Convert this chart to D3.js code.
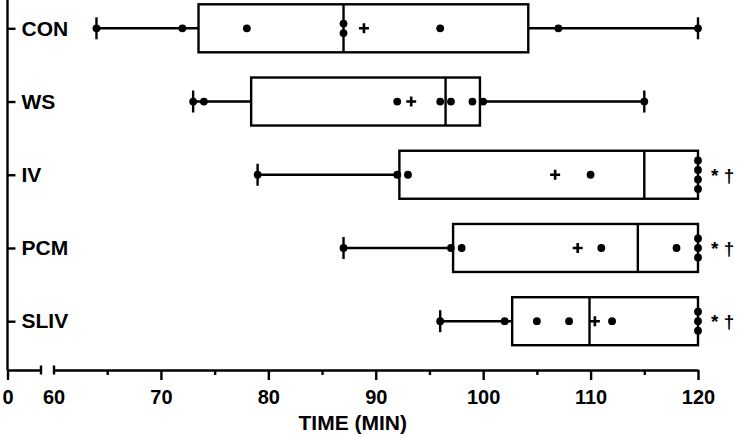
<!DOCTYPE html>
<html>
<head>
<meta charset="utf-8">
<script src="https://cdn.jsdelivr.net/npm/d3@7"></script>
<style>
  body { margin: 0; background: #fff; }
  svg { display: block; }
</style>
</head>
<body>
<svg id="chart" width="739" height="437"></svg>
<script>
const groups = ["CON", "WS", "IV", "PCM", "SLIV"];
const q1Values = [73.5, 78.4, 92.2, 97.2, 102.7];
const medianValues = [87, 96.5, 115, 114.4, 109.9];
const q3Values = [104.2, 99.7, 120, 120, 120];
const minValues = [64, 73, 79, 87, 96];
const maxValues = [120, 115, 120, 120, 120];
const meanValues = [88.9, 93.3, 106.7, 108.8, 110.4];
const pointValues = [
    [64, 72, 78, 87, 87, 96, 107, 120],
    [73, 74, 92, 96, 97, 99, 100, 115],
    [79, 92, 93, 110, 120, 120, 120, 120],
    [87, 97, 98, 111, 118, 120, 120, 120],
    [96, 102, 105, 108, 112, 120, 120, 120]
];
const sigLabels = ["", "", "* \u2020", "* \u2020", "* \u2020"];
const majorTicks = [60, 70, 80, 90, 100, 110, 120];
const minorTicks = [65, 75, 85, 95, 105, 115];
const lowTicks = [0];

function drawChart() {
    const svg = d3.select("#chart");
    const font = "'Liberation Sans', Arial, sans-serif";
    const axisY = 370, axisX = 7.5;
    const boxHalf = 24, capHalf = 11, r = 3.9, stackGap = 9.5, sw = 2.4;

    const x = d3.scaleLinear().domain([60, 120]).range([53.5, 698]);
    const xLow = d3.scaleLinear().domain([0, 3]).range([axisX, 41]);
    const y = d3.scalePoint().domain(groups).range([28.3, 321.2]);

    const data = groups.map((g, i) => ({
        name: g, q1: q1Values[i], med: medianValues[i], q3: q3Values[i],
        min: minValues[i], max: maxValues[i], mean: meanValues[i],
        pts: pointValues[i], sig: sigLabels[i]
    }));

    // y axis
    svg.append("line")
        .attr("x1", axisX).attr("x2", axisX)
        .attr("y1", 0).attr("y2", axisY)
        .attr("stroke", "black").attr("stroke-width", sw);

    const yAxis = svg.append("g")
        .attr("transform", `translate(${axisX},0)`)
        .call(d3.axisRight(y).tickSize(8).tickPadding(6));
    yAxis.select(".domain").remove();
    yAxis.selectAll("line").attr("stroke-width", sw);
    yAxis.selectAll("text")
        .attr("font-family", font).attr("font-size", 21).attr("font-weight", "bold")
        .attr("fill", "black");

    // x axis, low part (0)
    const lowAxis = svg.append("g")
        .attr("transform", `translate(0,${axisY})`)
        .call(d3.axisBottom(xLow).tickValues(lowTicks).tickFormat(d3.format("d"))
            .tickSize(10).tickPadding(10).tickSizeOuter(0));
    lowAxis.select(".domain").attr("stroke-width", sw);
    lowAxis.selectAll("line").attr("stroke-width", sw);
    lowAxis.append("line")
        .attr("x1", xLow.range()[1]).attr("x2", xLow.range()[1])
        .attr("y1", -4.5).attr("y2", 4.5)
        .attr("stroke", "black").attr("stroke-width", sw);

    // x axis, main part
    const mainAxis = svg.append("g")
        .attr("transform", `translate(0,${axisY})`)
        .call(d3.axisBottom(x).tickValues(majorTicks).tickSize(10).tickPadding(10).tickSizeOuter(0));
    mainAxis.select(".domain").attr("stroke-width", sw);
    mainAxis.selectAll("line").attr("stroke-width", sw);
    mainAxis.selectAll(".tick").filter(d => d === 60).select("line")
        .attr("y1", -4.5).attr("y2", 4.5);

    const minorAxis = svg.append("g")
        .attr("transform", `translate(0,${axisY})`)
        .call(d3.axisBottom(x).tickValues(minorTicks).tickSize(5).tickFormat(""));
    minorAxis.select(".domain").remove();
    minorAxis.selectAll("line").attr("stroke-width", sw);

    svg.selectAll(".tick text")
        .filter(function() { return this.textContent !== "" && !groups.includes(this.textContent); })
        .attr("font-family", font).attr("font-size", 20).attr("font-weight", "bold")
        .attr("fill", "black");

    svg.append("text")
        .attr("x", (xLow.range()[0] + x.range()[1]) / 2)
        .attr("y", 430)
        .attr("text-anchor", "middle")
        .attr("font-family", font).attr("font-size", 21).attr("font-weight", "bold")
        .text("TIME (MIN)");

    const row = svg.append("g").selectAll("g")
        .data(data)
        .join("g")
        .attr("transform", d => `translate(0,${y(d.name)})`);

    // whiskers
    row.filter(d => d.min < d.q1).append("line")
        .attr("x1", d => x(d.min)).attr("x2", d => x(d.q1))
        .attr("stroke", "black").attr("stroke-width", sw);
    row.filter(d => d.max > d.q3).append("line")
        .attr("x1", d => x(d.q3)).attr("x2", d => x(d.max))
        .attr("stroke", "black").attr("stroke-width", sw);
    row.filter(d => d.min < d.q1).append("line")
        .attr("x1", d => x(d.min)).attr("x2", d => x(d.min))
        .attr("y1", -capHalf).attr("y2", capHalf)
        .attr("stroke", "black").attr("stroke-width", sw);
    row.filter(d => d.max > d.q3).append("line")
        .attr("x1", d => x(d.max)).attr("x2", d => x(d.max))
        .attr("y1", -capHalf).attr("y2", capHalf)
        .attr("stroke", "black").attr("stroke-width", sw);

    // box
    row.append("rect")
        .attr("x", d => x(d.q1))
        .attr("y", -boxHalf)
        .attr("width", d => x(d.q3) - x(d.q1))
        .attr("height", boxHalf * 2)
        .attr("fill", "white")
        .attr("stroke", "black").attr("stroke-width", sw);
    row.append("line")
        .attr("x1", d => x(d.med)).attr("x2", d => x(d.med))
        .attr("y1", -boxHalf).attr("y2", boxHalf)
        .attr("stroke", "black").attr("stroke-width", sw);

    // mean plus
    row.append("path")
        .attr("d", d => `M${x(d.mean) - 5},0H${x(d.mean) + 5}M${x(d.mean)},-5V5`)
        .attr("stroke", "black").attr("stroke-width", 2.6);

    // points, duplicates stacked vertically
    row.each(function(d) {
        const counts = d3.rollup(d.pts, v => v.length, v => v);
        const seen = new Map();
        const placed = d.pts.map(v => {
            const k = seen.get(v) || 0;
            seen.set(v, k + 1);
            return {v: v, off: (k - (counts.get(v) - 1) / 2) * stackGap};
        });
        d3.select(this).selectAll("circle")
            .data(placed)
            .join("circle")
            .attr("cx", p => x(p.v))
            .attr("cy", p => p.off)
            .attr("r", r)
            .attr("fill", "black");
    });

    // significance marks
    row.append("text")
        .attr("x", x.range()[1] + 13)
        .attr("y", 7)
        .attr("font-family", font).attr("font-size", 19).attr("font-weight", "bold")
        .text(d => d.sig);
}

drawChart();
</script>
</body>
</html>
